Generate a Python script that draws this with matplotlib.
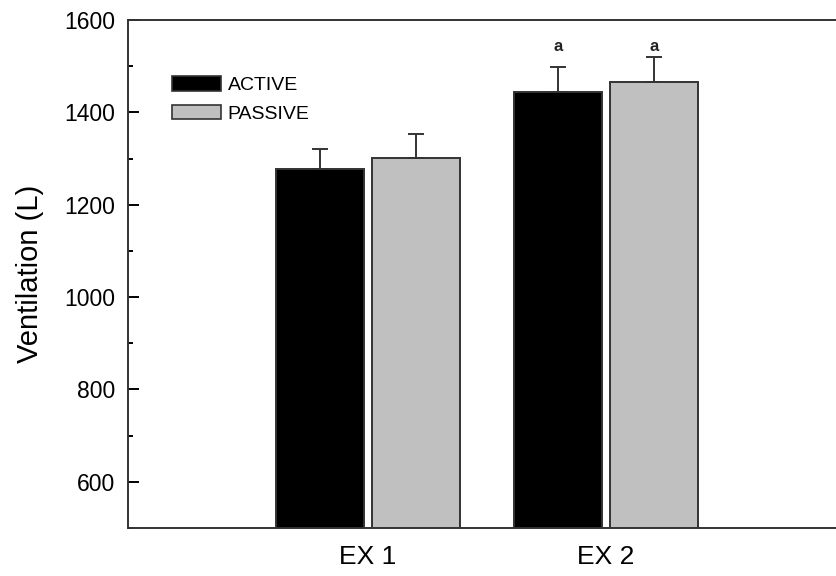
import matplotlib.pyplot as plt
import numpy as np
from matplotlib.patches import Patch
from matplotlib.ticker import MultipleLocator

plt.rcParams['font.family'] = ['Liberation Sans', 'DejaVu Sans']

groups = ["EX 1", "EX 2"]
series = ["ACTIVE", "PASSIVE"]
active_mean = [1277, 1445]
active_err = [44, 54]
passive_mean = [1301, 1465]
passive_err = [52, 55]
sig_marks = ["", "a"]  # marker over both bars of each group
sig_level = 1542


def main():
    fig = plt.figure(figsize=(8.36, 5.76), dpi=100)
    ax = fig.add_axes([128 / 836, 1 - 528 / 576, 714 / 836, 508 / 576])

    x = np.arange(1, len(groups) + 1)
    width = 0.37
    off = 0.2025
    edge = "#333333"

    ax.bar(x - off, active_mean, width, color="black", edgecolor=edge,
           linewidth=1.4, zorder=2)
    ax.bar(x + off, passive_mean, width, color="#c0c0c0", edgecolor=edge,
           linewidth=1.4, zorder=2)

    # upper error bars only
    for xs, m, e in [(x - off, active_mean, active_err),
                     (x + off, passive_mean, passive_err)]:
        ax.errorbar(xs, m, yerr=[np.zeros(len(e)), e], fmt="none",
                    ecolor=edge, elinewidth=1.4, capsize=6, capthick=1.4,
                    zorder=3)
        for xi, s in zip(xs, sig_marks):
            if s:
                ax.text(xi, sig_level, s, ha="center", va="center",
                        fontsize=12, fontweight="bold", color="#222222")

    ax.set_xlim(-0.0085, 2.9915)
    ax.set_ylim(500, 1600)
    ax.set_xticks(x)
    ax.set_xticklabels(groups, fontsize=19)
    ax.tick_params(axis="x", length=0, pad=12)
    ax.set_yticks([600, 800, 1000, 1200, 1400, 1600])
    ax.yaxis.set_minor_locator(MultipleLocator(100))
    ax.tick_params(axis="y", which="major", length=8, width=1.4,
                   labelsize=16.5, direction="in", pad=9)
    ax.tick_params(axis="y", which="minor", length=3.5, width=1.4,
                   direction="in")
    ax.set_ylabel("Ventilation (L)", fontsize=21, labelpad=15)

    for sp in ax.spines.values():
        sp.set_linewidth(1.4)
        sp.set_color(edge)

    handles = [Patch(facecolor="black", edgecolor=edge, linewidth=1.2),
               Patch(facecolor="#c0c0c0", edgecolor=edge, linewidth=1.2)]
    ax.legend(handles, series, loc="upper left", bbox_to_anchor=(0.0616, 0.89),
              frameon=False, fontsize=14, handlelength=2.5,
              handleheight=0.78, handletextpad=0.36, labelspacing=0.55,
              borderpad=0, borderaxespad=0)

    fig.savefig("out.png", dpi=100)


if __name__ == "__main__":
    main()
